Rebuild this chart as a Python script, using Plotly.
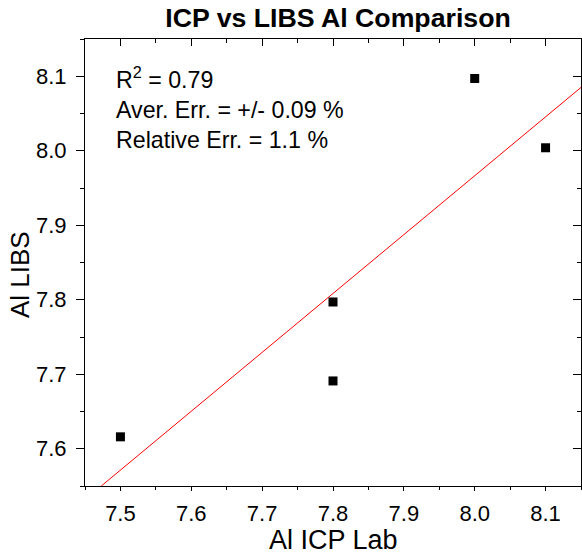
import plotly.graph_objects as go

# Data
icp_al = [7.5, 7.8, 7.8, 8.0, 8.1]
libs_al = [7.616, 7.797, 7.691, 8.097, 8.004]

# Linear fit line end points (as drawn in the reference)
fit_x = [7.473, 8.15]
fit_y = [7.55, 8.085]

x_ticks = [7.5, 7.6, 7.7, 7.8, 7.9, 8.0, 8.1]
y_ticks = [7.6, 7.7, 7.8, 7.9, 8.0, 8.1]
x_range = [7.45, 8.15]
y_range = [7.55, 8.15]

stats_text = ["R<sup>2</sup> = 0.79", "Aver. Err. = +/- 0.09 %", "Relative Err. = 1.1 %"]
stats_y = [8.098, 8.055, 8.015]

FONT = "Liberation Sans, Arial, sans-serif"

W, H = 582, 557
ML, MR, MT, MB = 85, 1, 39, 71
PW, PH = W - ML - MR, H - MT - MB

fig = go.Figure()
fig.add_trace(go.Scatter(x=fit_x, y=fit_y, mode="lines",
                         line=dict(color="#ff0000", width=1), showlegend=False,
                         hoverinfo="skip"))
fig.add_trace(go.Scatter(x=icp_al, y=libs_al, mode="markers",
                         marker=dict(symbol="square", size=9, color="black"),
                         showlegend=False))
# invisible trace for mirrored (inside-tick) axes
fig.add_trace(go.Scatter(x=icp_al, y=libs_al, mode="markers", xaxis="x2", yaxis="y2",
                         marker=dict(opacity=0), showlegend=False, hoverinfo="skip"))

axis_common = dict(showgrid=False, zeroline=False, showline=True, linecolor="black",
                   linewidth=1, tickcolor="black", tickwidth=1, automargin=False)

fig.update_layout(
    width=W, height=H,
    margin=dict(l=ML, r=MR, t=MT, b=MB),
    paper_bgcolor="white", plot_bgcolor="white",
    font=dict(family=FONT, color="black"),
    title=dict(text="<b>ICP vs LIBS Al Comparison</b>", x=338 / W, xanchor="center",
               y=1 - 18 / H, yanchor="middle", font=dict(size=26.7, family=FONT)),
    xaxis=dict(range=x_range, tickvals=x_ticks, ticktext=[f"{v:.1f}" for v in x_ticks],
               ticks="outside", ticklen=4, ticklabelstandoff=4,
               minor=dict(ticks="outside", ticklen=3, dtick=0.05, tick0=7.45, tickcolor="black"),
               tickfont=dict(size=22), **axis_common),
    yaxis=dict(range=y_range, tickvals=y_ticks, ticktext=[f"{v:.1f}" for v in y_ticks],
               ticks="outside", ticklen=8, ticklabelstandoff=5,
               minor=dict(ticks="outside", ticklen=4, dtick=0.05, tick0=7.55, tickcolor="black"),
               tickfont=dict(size=22), **axis_common),
    xaxis2=dict(overlaying="x", matches="x", side="top", range=x_range, tickvals=x_ticks,
                ticks="inside", ticklen=7, showticklabels=False,
                minor=dict(ticks="inside", ticklen=4, dtick=0.05, tick0=7.45, tickcolor="black"),
                **axis_common),
    yaxis2=dict(overlaying="y", matches="y", side="right", range=y_range, tickvals=y_ticks,
                ticks="inside", ticklen=8, showticklabels=False,
                minor=dict(ticks="inside", ticklen=4, dtick=0.05, tick0=7.55, tickcolor="black"),
                **axis_common),
)

# axis titles (positions relative to the plot area)
fig.add_annotation(x=(333 - ML) / PW, y=-(540 - 486) / PH, xref="paper", yref="paper",
                   text="Al ICP Lab", showarrow=False, xanchor="center", yanchor="middle",
                   font=dict(size=27, family=FONT, color="black"))
fig.add_annotation(x=(20 - ML) / PW, y=(486 - 275) / PH, xref="paper", yref="paper",
                   text="Al LIBS", showarrow=False, textangle=-90,
                   xanchor="center", yanchor="middle",
                   font=dict(size=26, family=FONT, color="black"))

for txt, yy in zip(stats_text, stats_y):
    fig.add_annotation(x=29 / PW, y=yy, xref="paper", yref="y", text=txt, showarrow=False,
                       xanchor="left", yanchor="middle",
                       font=dict(size=23.2, family=FONT, color="black"))

fig.write_html("out.html", config={"displayModeBar": False},
               post_script="document.body.style.margin='0';")
